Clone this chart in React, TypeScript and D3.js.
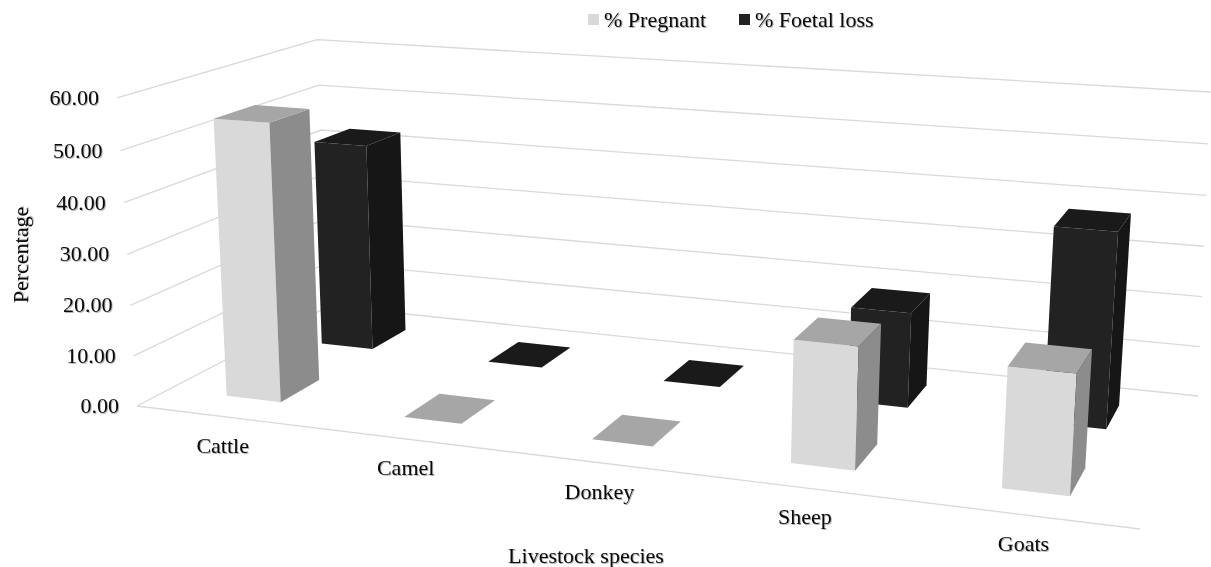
import React from "react";
import * as d3 from "d3";

const categories = ["Cattle", "Camel", "Donkey", "Sheep", "Goats"];
const seriesNames = ["% Pregnant", "% Foetal loss"];
const pregnant = [54.9, 0, 0, 22.9, 22.0];
const foetalLoss = [43.2, 0, 0, 18.8, 37.9];
const valueTicks = [0, 10, 20, 30, 40, 50, 60];

const WIDTH = 1211;
const HEIGHT = 567;
const FONT = "'Liberation Serif', 'Times New Roman', serif";

// Shades for each series: front, side and top face of a column.
const faces = [
  { front: "#d9d9d9", side: "#8c8c8c", top: "#a6a6a6" },
  { front: "#222222", side: "#161616", top: "#1a1a1a" },
];

// Projective camera: floor coordinates u, v in [0, 1] and height t in [0, 1].
function project(u: number, v: number, t: number): [number, number] {
  const w = -0.1376 * u + 0.1634 * v - 0.03 * t + 1;
  return [
    (846.1 * u + 245.8 * v - 23.5 * t + 137) / w,
    (50.2 * u - 50.0 * v - 311 * t - 3.6 * u * v * t + 406) / w,
  ];
}

// Columns lean a little further towards the right as they rise.
function projectColumn(u: number, v: number, t: number): [number, number] {
  const [x, y] = project(u, v, t);
  return [x + (2.2 + 7 * u) * t, y];
}

const uScale = d3.scaleBand<string>().domain(categories).range([0, 1]);
const vScale = d3.scaleBand<string>().domain(seriesNames).range([0, 1]);
const tScale = d3.scaleLinear().domain([0, 60]).range([0, 1]);
const outline = d3.line<[number, number]>();

const COLUMN_U = 0.062;
const COLUMN_V = 0.2;
const COLUMN_U_OFFSET = -0.0025;

function Column({ category, series, value }: { category: string; series: number; value: number }) {
  const uc = uScale(category)! + uScale.bandwidth() / 2 + COLUMN_U_OFFSET;
  const vc = vScale(seriesNames[series])! + vScale.bandwidth() / 2;
  const [u0, u1] = [uc - COLUMN_U / 2, uc + COLUMN_U / 2];
  const [v0, v1] = [vc - COLUMN_V / 2, vc + COLUMN_V / 2];
  const t = tScale(value);
  const c = faces[series];
  const poly = (pts: [number, number, number][]) =>
    outline(pts.map(([a, b, h]) => projectColumn(a, b, h))) + "Z";
  return (
    <g>
      {value > 0 && (
        <>
          <path d={poly([[u0, v0, 0], [u1, v0, 0], [u1, v0, t], [u0, v0, t]])} fill={c.front} />
          <path d={poly([[u1, v0, 0], [u1, v1, 0], [u1, v1, t], [u1, v0, t]])} fill={c.side} />
        </>
      )}
      <path d={poly([[u0, v0, t], [u1, v0, t], [u1, v1, t], [u0, v1, t]])} fill={c.top} />
    </g>
  );
}

export default function App() {
  const textStyle = {
    fontFamily: FONT,
    fontSize: 22,
    fill: "#0a0a0a",
    filter: "drop-shadow(1px 1px 0.6px rgba(0,0,0,0.3))",
  };
  return (
    <svg
      width={WIDTH}
      height={HEIGHT}
      viewBox={`0 0 ${WIDTH} ${HEIGHT}`}
      style={{ position: "absolute", left: 0, top: 0, background: "#fff" }}
    >
      {/* Wall gridlines and the front edge of the floor */}
      <g fill="none" stroke="#d9d9d9" strokeWidth={1.3}>
        {valueTicks.map((d) => {
          const t = tScale(d);
          return (
            <path key={d} d={outline([project(0, 0, t), project(0, 1, t), project(1, 1, t)])!} />
          );
        })}
        <path d={outline([project(0, 0, 0), project(1, 0, 0)])!} />
      </g>

      {/* Columns, back row first so the front row overlaps it */}
      {categories.map((c, i) => (
        <Column key={c + "-loss"} category={c} series={1} value={foetalLoss[i]} />
      ))}
      {categories.map((c, i) => (
        <Column key={c + "-preg"} category={c} series={0} value={pregnant[i]} />
      ))}

      {/* Value axis labels */}
      {valueTicks.map((d) => {
        const [x, y] = project(0, 0, tScale(d));
        return (
          <text key={d} x={x - 18} y={y + 7} textAnchor="end" style={textStyle}>
            {d3.format(".2f")(d)}
          </text>
        );
      })}

      {/* Category labels under the front edge */}
      {categories.map((c) => {
        const [x, y] = project(uScale(c)! + uScale.bandwidth() / 2, 0, 0);
        return (
          <text key={c} x={x - 2} y={y + 36} textAnchor="middle" style={textStyle}>
            {c}
          </text>
        );
      })}

      <text x={586} y={563} textAnchor="middle" style={textStyle}>
        Livestock species
      </text>
      <text transform="translate(28,255) rotate(-90)" textAnchor="middle" style={textStyle}>
        Percentage
      </text>

      {/* Legend */}
      <rect x={588} y={14} width={11} height={11} fill={faces[0].front} />
      <text x={604} y={27} style={textStyle}>{seriesNames[0]}</text>
      <rect x={739} y={14} width={11} height={11} fill={faces[1].front} />
      <text x={755} y={27} style={textStyle}>{seriesNames[1]}</text>
    </svg>
  );
}
